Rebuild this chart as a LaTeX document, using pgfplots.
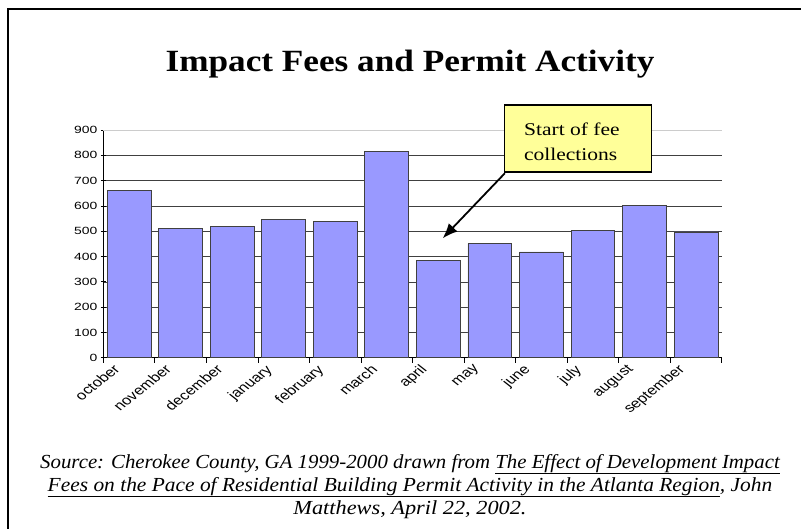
\documentclass[border=0pt]{standalone}
\usepackage{pgfplots}
\pgfplotsset{compat=1.18}
\usepackage{fontspec}
\setmainfont{Liberation Serif}
\setsansfont{Liberation Sans}
\usetikzlibrary{arrows.meta}
\definecolor{barblue}{HTML}{9999FF}
\definecolor{noteyellow}{HTML}{FFFF99}
% the chart text of the slide is stretched sideways
\newcommand\xl[1]{\scalebox{1.28}[1]{\rotatebox{45}{#1}}}

\begin{document}
\begin{tikzpicture}[x=1bp,y=1bp]
\useasboundingbox (0,0) rectangle (801,-529);
% slide frame
\draw[line width=2bp] (7.5,-600) -- (7.5,-9) -- (900,-9);
\node[anchor=base, font=\bfseries\fontsize{31}{36}\selectfont] at (410,-72)
  {\scalebox{1.14}[1]{Impact Fees and Permit Activity}};

\begin{axis}[
  at={(103.3bp,-357.7bp)}, anchor=south west,
  scale only axis, width=618.5bp, height=227.7bp,
  ymin=0, ymax=900, ytick={0,100,...,900},
  xmin=-0.5, xmax=11.5,
  xtick={0,...,11},
  xticklabels={\xl{october},\xl{november},\xl{december},\xl{january},\xl{february},\xl{march},
    \xl{april},\xl{may},\xl{june},\xl{july},\xl{august},\xl{september}},
  minor xtick={-0.5,0.5,...,11.5},
  major x tick style={draw=none},
  tick align=outside, major tick length=5bp, minor tick length=5bp,
  axis x line=bottom, axis y line=left,
  axis line style={-, black, line width=0.8bp},
  tick style={black, line width=0.8bp},
  ymajorgrids, grid style={black!75, line width=0.6bp},
  xticklabel style={font=\sffamily\fontsize{13}{15}\selectfont, anchor=north east, inner sep=0pt, xshift=-8bp, yshift=-1bp},
  yticklabel={\scalebox{1.33}[1]{\pgfmathprintnumber{\tick}}},
  yticklabel style={font=\sffamily\fontsize{10.5}{12}\selectfont},
  /pgf/number format/assume math mode=true,
  ybar, bar width=0.85,
  clip=false,
]
\addplot[fill=barblue, draw=black!75, line width=0.8bp] coordinates {
  (0,660) (1,511) (2,518) (3,547) (4,540) (5,817)
  (6,385) (7,451) (8,418) (9,503) (10,602) (11,497)};
% light top line of the plot area
\draw[black!20, line width=0.6bp] (axis cs:-0.5,900) -- (axis cs:11.5,900);
% callout
\draw[fill=noteyellow, line width=1.5bp] (axis cs:7.28,999) rectangle (axis cs:10.14,735);
\node[anchor=base west, font=\fontsize{18}{22}\selectfont, inner sep=0pt] at (axis cs:7.66,880) {\scalebox{1.2}[1]{Start of fee}};
\node[anchor=base west, font=\fontsize{18}{22}\selectfont, inner sep=0pt] at (axis cs:7.66,779) {\scalebox{1.2}[1]{collections}};
\draw[line width=1.8bp, -{Latex[length=15bp,width=12bp]}] (axis cs:7.29,729) -- (axis cs:6.085,472);
\end{axis}

\begin{scope}[font=\itshape\fontsize{20}{24}\selectfont]
\node[anchor=base] at (410,-468) {\scalebox{1.045}[1]{Source: Cherokee County, GA 1999-2000 drawn from \underline{The Effect of Development Impact}}};
\node[anchor=base] at (410,-491) {\scalebox{1.075}[1]{\underline{Fees on the Pace of Residential Building Permit Activity in the Atlanta Region}, John}};
\node[anchor=base] at (410,-514) {\scalebox{1.12}[1]{Matthews, April 22, 2002.}};
\end{scope}
\end{tikzpicture}
\end{document}
